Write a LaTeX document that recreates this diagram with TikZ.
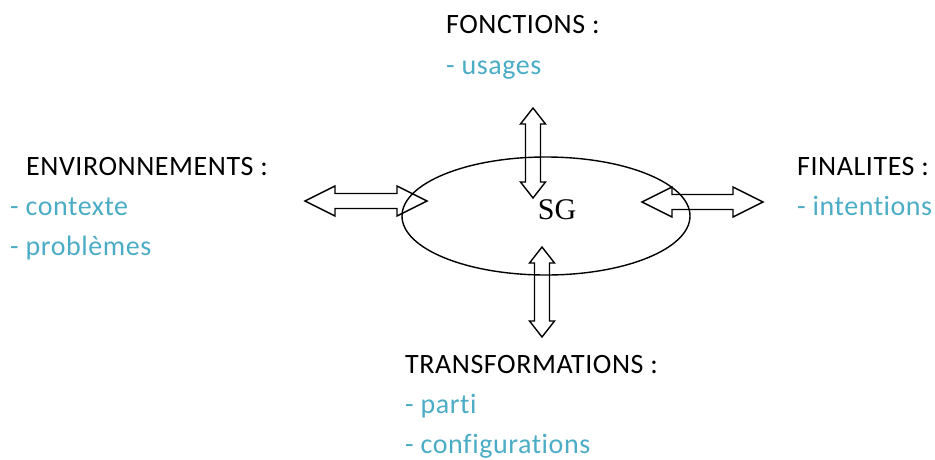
\documentclass[tikz,border=0pt]{standalone}
\usepackage{fontspec}
\setmainfont[Ligatures={NoCommon},LetterSpace=2]{Carlito}
\newfontfamily\sgfont{Liberation Serif}
\definecolor{itemblue}{RGB}{75,172,198}
\begin{document}
\begin{tikzpicture}[x=1pt,y=-1pt,
  head/.style={anchor=base west,inner sep=0pt,font=\fontsize{28}{34}\selectfont,text=black},
  item/.style={anchor=base west,inner sep=0pt,font=\fontsize{28}{34}\selectfont,text=itemblue},
  blockarrow/.style={draw=black,line width=1.4pt,line join=miter}]
\useasboundingbox (0,0) rectangle (935,459);
% ellipse
\draw[line width=1.4pt] (546,216) ellipse [x radius=144, y radius=59];
\node[anchor=base,inner sep=0pt,font=\sgfont\fontsize{30}{34}\selectfont] (sg) at (557,219) {SG};
% texts
\node[head] (fon) at (446,33) {FONCTIONS :};
\node[item] (fon1) at (446,74) {- usages};
\node[head] (env) at (26,175) {ENVIRONNEMENTS :};
\node[item] (env1) at (10,215) {- contexte};
\node[item] (env2) at (10,255) {- problèmes};
\node[head] (fin) at (797,175) {FINALITES :};
\node[item] (fin1) at (797,215) {- intentions};
\node[head] (tra) at (405,373) {TRANSFORMATIONS :};
\node[item] (tra1) at (405,413) {- parti};
\node[item] (tra2) at (405,453) {- configurations};
% left horizontal double arrow
\draw[blockarrow] (305,201) -- (335,186) -- (335,193.5) -- (397,193.5) -- (397,186) -- (427,201)
  -- (397,216) -- (397,208.5) -- (335,208.5) -- (335,216) -- cycle;
% right horizontal double arrow
\draw[blockarrow] (642,202) -- (672,187) -- (672,194.5) -- (733,194.5) -- (733,187) -- (763,202)
  -- (733,217) -- (733,209.5) -- (672,209.5) -- (672,217) -- cycle;
% top vertical double arrow
\draw[blockarrow] (533,108) -- (545.5,124) -- (540.5,124) -- (540.5,182) -- (545.5,182) -- (533,198)
  -- (520.5,182) -- (525.5,182) -- (525.5,124) -- (520.5,124) -- cycle;
% bottom vertical double arrow
\draw[blockarrow] (542,247) -- (554.5,263) -- (549.5,263) -- (549.5,321) -- (554.5,321) -- (542,337)
  -- (529.5,321) -- (534.5,321) -- (534.5,263) -- (529.5,263) -- cycle;
\end{tikzpicture}
\end{document}
